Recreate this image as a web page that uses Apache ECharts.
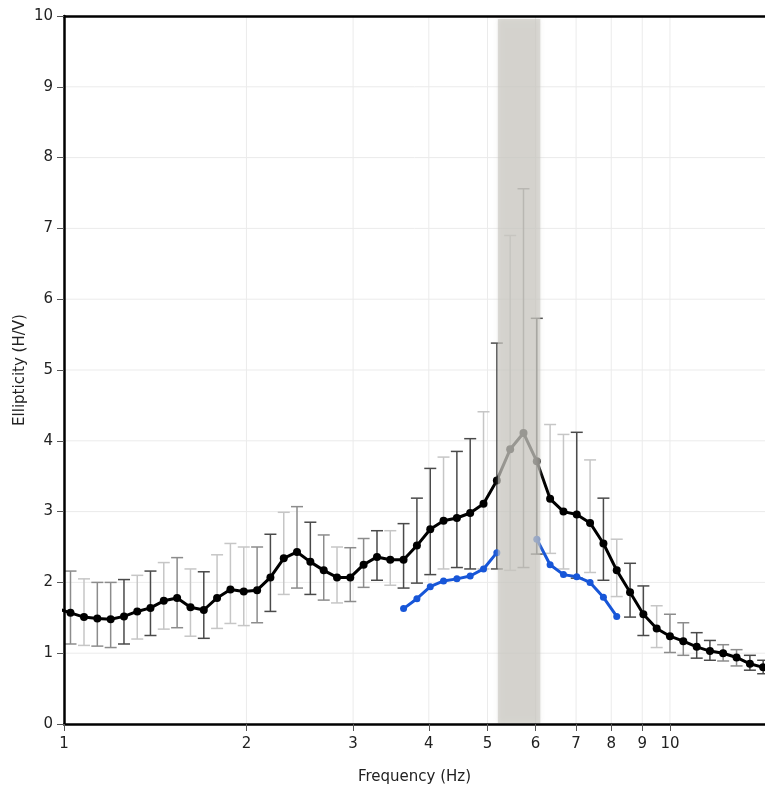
<!DOCTYPE html>
<html>
<head>
<meta charset="utf-8">
<script src="https://cdn.jsdelivr.net/npm/echarts@6/dist/echarts.min.js"></script>
<style>
  html, body { margin: 0; padding: 0; background: #fff; }
  #chart { width: 765px; height: 785px; }
</style>
</head>
<body>
<div id="chart"></div>
<script>
// ---- data ----
const frequency = [0.975, 1.025, 1.079, 1.135, 1.194, 1.256, 1.321, 1.389, 1.461, 1.537,
  1.617, 1.701, 1.789, 1.882, 1.980, 2.083, 2.191, 2.305, 2.424, 2.550,
  2.683, 2.822, 2.968, 3.122, 3.285, 3.455, 3.634, 3.823, 4.022, 4.230,
  4.450, 4.681, 4.924, 5.180, 5.449, 5.732, 6.029, 6.342, 6.672, 7.018,
  7.382, 7.766, 8.169, 8.593, 9.039, 9.508, 10.00, 10.52, 11.07, 11.64,
  12.24, 12.88, 13.55, 14.25, 14.99];
const ellipticity = [1.63, 1.57, 1.51, 1.49, 1.48, 1.52, 1.59, 1.64, 1.74, 1.78,
  1.65, 1.61, 1.78, 1.90, 1.87, 1.89, 2.07, 2.34, 2.43, 2.29,
  2.17, 2.07, 2.07, 2.25, 2.36, 2.32, 2.32, 2.52, 2.75, 2.87,
  2.91, 2.98, 3.11, 3.44, 3.88, 4.11, 3.71, 3.18, 3.00, 2.96,
  2.84, 2.55, 2.17, 1.86, 1.55, 1.35, 1.24, 1.17, 1.09, 1.03,
  1.00, 0.94, 0.85, 0.80, 0.74];
const errLow = [1.15, 1.13, 1.11, 1.10, 1.08, 1.13, 1.20, 1.25, 1.34, 1.36,
  1.24, 1.21, 1.35, 1.42, 1.39, 1.43, 1.59, 1.83, 1.92, 1.83,
  1.75, 1.71, 1.73, 1.93, 2.03, 1.96, 1.92, 1.99, 2.11, 2.19,
  2.21, 2.19, 2.19, 2.19, 2.17, 2.21, 2.40, 2.41, 2.19, 2.06,
  2.14, 2.03, 1.80, 1.51, 1.25, 1.08, 1.01, 0.97, 0.93, 0.90,
  0.89, 0.82, 0.76, 0.71, 0.66];
const errHigh = [2.20, 2.16, 2.05, 2.00, 2.00, 2.04, 2.10, 2.16, 2.28, 2.35,
  2.19, 2.15, 2.39, 2.55, 2.50, 2.50, 2.68, 2.99, 3.07, 2.85,
  2.67, 2.50, 2.49, 2.62, 2.73, 2.73, 2.83, 3.19, 3.61, 3.77,
  3.85, 4.03, 4.41, 5.38, 6.90, 7.56, 5.73, 4.23, 4.09, 4.12,
  3.73, 3.19, 2.61, 2.27, 1.95, 1.67, 1.55, 1.43, 1.29, 1.18,
  1.12, 1.05, 0.97, 0.90, 0.85];
const blueCurve = [null, null, null, null, null, null, null, null, null, null,
  null, null, null, null, null, null, null, null, null, null,
  null, null, null, null, null, null, 1.63, 1.77, 1.94, 2.02,
  2.05, 2.09, 2.19, 2.42, null, null, 2.61, 2.25, 2.11, 2.08,
  2.00, 1.79, 1.52, null, null, null, null, null, null, null,
  null, null, null, null, null];
const peakBand = [5.20, 6.11];          // Hz
const xRange = [1, 14.35];              // Hz
const yRange = [0, 10];
const xTickLabels = ['1', '2', '3', '4', '5', '6', '7', '8', '9', '10'];
const xTickValues = [1, 2, 3, 4, 5, 6, 7, 8, 9, 10];
const yTickLabels = ['0', '1', '2', '3', '4', '5', '6', '7', '8', '9', '10'];
const yTickValues = [0, 1, 2, 3, 4, 5, 6, 7, 8, 9, 10];

// ---- styling (kept apart from the data) ----
const barTone = [1, 1, 2, 1, 1, 0, 2, 0, 2, 1, 2, 0, 2, 2, 2, 1, 0, 2, 1, 0,
  1, 2, 1, 1, 0, 2, 0, 0, 0, 2, 0, 0, 2, 0, 2, 1, 0, 2, 2, 0,
  2, 0, 2, 0, 0, 2, 1, 1, 0, 0, 1, 1, 0, 0, 1];
const toneColors = ['#4a4a4a', '#8c8c8c', '#c6c6c6'];
const FONT = 'DejaVu Sans';
const GRID_COLOR = '#ebebeb';

const lg = v => Math.log10(v);
const tickLog = xTickValues.map(lg);
const labelOf = v => {
  let best = 0;
  tickLog.forEach((t, i) => { if (Math.abs(t - v) < Math.abs(tickLog[best] - v)) best = i; });
  return xTickLabels[best];
};

const chart = echarts.init(document.getElementById('chart'), null, { renderer: 'canvas' });

const option = {
  animation: false,
  backgroundColor: '#fff',
  grid: { left: 64, right: 0, top: 16, bottom: 61, containLabel: false, outerBoundsMode: 'none' },
  xAxis: [{
    type: 'value', position: 'bottom', z: 20,
    min: lg(xRange[0]), max: lg(xRange[1]),
    name: 'Frequency (Hz)', nameLocation: 'middle', nameGap: 46, nameMoveOverlap: false,
    nameTextStyle: { fontFamily: FONT, fontSize: 15, color: '#222' },
    axisLine: { show: true, lineStyle: { color: '#000', width: 2.5 } },
    axisTick: { show: true, customValues: tickLog, length: 7, lineStyle: { color: '#555', width: 1 } },
    axisLabel: { customValues: tickLog, formatter: v => labelOf(v), fontFamily: FONT, fontSize: 15, color: '#222', margin: 13 },
    splitLine: { show: false }
  }, {
    type: 'value', position: 'top', z: 20,
    min: lg(xRange[0]), max: lg(xRange[1]),
    axisLine: { show: true, lineStyle: { color: '#000', width: 2.5 } },
    axisTick: { show: false }, axisLabel: { show: false }, splitLine: { show: false }
  }],
  yAxis: {
    type: 'value', min: yRange[0], max: yRange[1], interval: 1, z: 20,
    name: 'Ellipticity (H/V)', nameLocation: 'middle', nameGap: 36, nameRotate: 90, nameMoveOverlap: false,
    nameTextStyle: { fontFamily: FONT, fontSize: 15, color: '#222' },
    axisLine: { show: true, onZero: false, lineStyle: { color: '#000', width: 2.5 } },
    axisTick: { show: true, length: 7, lineStyle: { color: '#555', width: 1 } },
    axisLabel: { formatter: v => yTickLabels[Math.round(v)], fontFamily: FONT, fontSize: 15, color: '#222', margin: 11 },
    splitLine: { show: false }
  },
  series: [
    {
      name: 'vgrid', type: 'custom', z: 1, silent: true, clip: true,
      data: tickLog.slice(1).map(v => [v]),
      renderItem: (params, api) => {
        const a = api.coord([api.value(0), yRange[0]]);
        const b = api.coord([api.value(0), yRange[1]]);
        return { type: 'line', shape: { x1: a[0], y1: a[1], x2: b[0], y2: b[1] },
          style: { stroke: GRID_COLOR, lineWidth: 1 } };
      }
    },
    {
      name: 'hgrid', type: 'custom', z: 1, silent: true, clip: true,
      data: yTickValues.slice(1, -1).map(v => [lg(xRange[0]), v]),
      renderItem: (params, api) => {
        const a = api.coord([lg(xRange[0]), api.value(1)]);
        const b = api.coord([lg(xRange[1]), api.value(1)]);
        return { type: 'line', shape: { x1: a[0], y1: a[1], x2: b[0], y2: b[1] },
          style: { stroke: GRID_COLOR, lineWidth: 1 } };
      }
    },
    {
      name: 'errorbars', type: 'custom', z: 2, silent: true, clip: true,
      data: frequency.map((f, i) => [lg(f), errLow[i], errHigh[i], barTone[i]]),
      renderItem: (params, api) => {
        const x = api.value(0);
        const lo = api.coord([x, api.value(1)]);
        const hi = api.coord([x, api.value(2)]);
        const c = toneColors[api.value(3)];
        const w = 6;
        const st = { stroke: c, lineWidth: 1.5 };
        return { type: 'group', children: [
          { type: 'line', shape: { x1: lo[0], y1: lo[1], x2: hi[0], y2: hi[1] }, style: st },
          { type: 'line', shape: { x1: hi[0] - w, y1: hi[1], x2: hi[0] + w, y2: hi[1] }, style: st },
          { type: 'line', shape: { x1: lo[0] - w, y1: lo[1], x2: lo[0] + w, y2: lo[1] }, style: st }
        ] };
      }
    },
    {
      name: 'Ellipticity', type: 'line', z: 3,
      data: frequency.map((f, i) => [lg(f), ellipticity[i]]),
      symbol: 'circle', symbolSize: 8, showAllSymbol: true,
      lineStyle: { color: '#000', width: 3 },
      itemStyle: { color: '#000' }
    },
    {
      name: 'Curve', type: 'line', z: 4, connectNulls: false,
      data: frequency.map((f, i) => [lg(f), blueCurve[i]]),
      symbol: 'circle', symbolSize: 7, showAllSymbol: true,
      lineStyle: { color: '#1756d8', width: 3 },
      itemStyle: { color: '#1756d8' }
    },
    {
      name: 'band', type: 'custom', z: 10, silent: true, clip: true,
      data: [[lg(peakBand[0]), lg(peakBand[1])]],
      renderItem: (params, api) => {
        const a = api.coord([api.value(0), yRange[1]]);
        const b = api.coord([api.value(1), yRange[0]]);
        return { type: 'rect', shape: { x: a[0], y: a[1] + 3, width: b[0] - a[0], height: b[1] - a[1] - 4 },
          style: { fill: 'rgba(199,197,190,0.6)', shadowBlur: 5, shadowColor: 'rgba(199,197,190,0.7)' } };
      }
    }
  ]
};
chart.setOption(option);
</script>
</body>
</html>
